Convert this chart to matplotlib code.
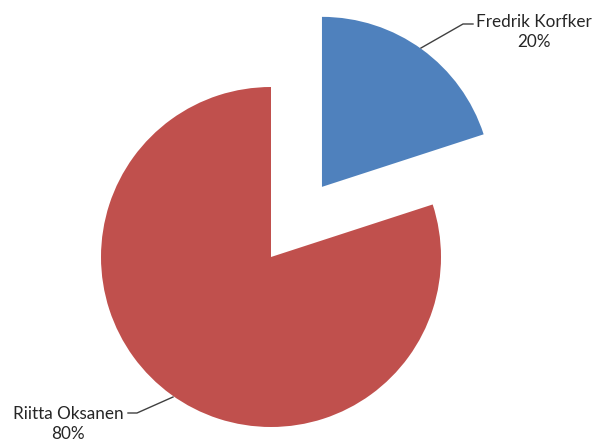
import matplotlib.pyplot as plt

names = ["Fredrik Korfker", "Riitta Oksanen"]
shares = [20, 80]
colors = ["#4F81BD", "#C0504D"]
explode = [0.51, 0.0]

plt.rcParams['font.family'] = ['Lato', 'DejaVu Sans']

fig = plt.figure(figsize=(5.94, 4.43), dpi=100)
ax = fig.add_axes([0, 0, 1, 1])

R = 170.0  # pie radius in pixels


def px(x, y):
    # pixel position (from top-left) to data coordinates
    return ((x - 271) / R, (257 - y) / R)


ax.pie(shares, colors=colors, explode=explode, startangle=90,
       counterclock=False, radius=1.0,
       wedgeprops=dict(linewidth=0))

ax.set_xlim(-271 / R, (594 - 271) / R)
ax.set_ylim(-(443 - 257) / R, 257 / R)
ax.set_aspect('auto')
ax.axis('off')

# leader lines
lc = "#404040"
x0, y0 = px(421, 48)
x1, y1 = px(463, 24)
x2, y2 = px(473, 24)
ax.plot([x0, x1, x2], [y0, y1, y2], color=lc, lw=1)
tx, ty = px(534, 32)
ax.text(tx, ty, f"{names[0]}\n{shares[0]}%", ha='center', va='center',
        fontsize=12.3, color='#262626', linespacing=1.3)

x0, y0 = px(173, 397)
x1, y1 = px(137, 413)
x2, y2 = px(128, 413)
ax.plot([x0, x1, x2], [y0, y1, y2], color=lc, lw=1)
tx, ty = px(68, 424)
ax.text(tx, ty, f"{names[1]}\n{shares[1]}%", ha='center', va='center',
        fontsize=12.3, color='#262626', linespacing=1.3)

fig.savefig("out.png", dpi=100)
